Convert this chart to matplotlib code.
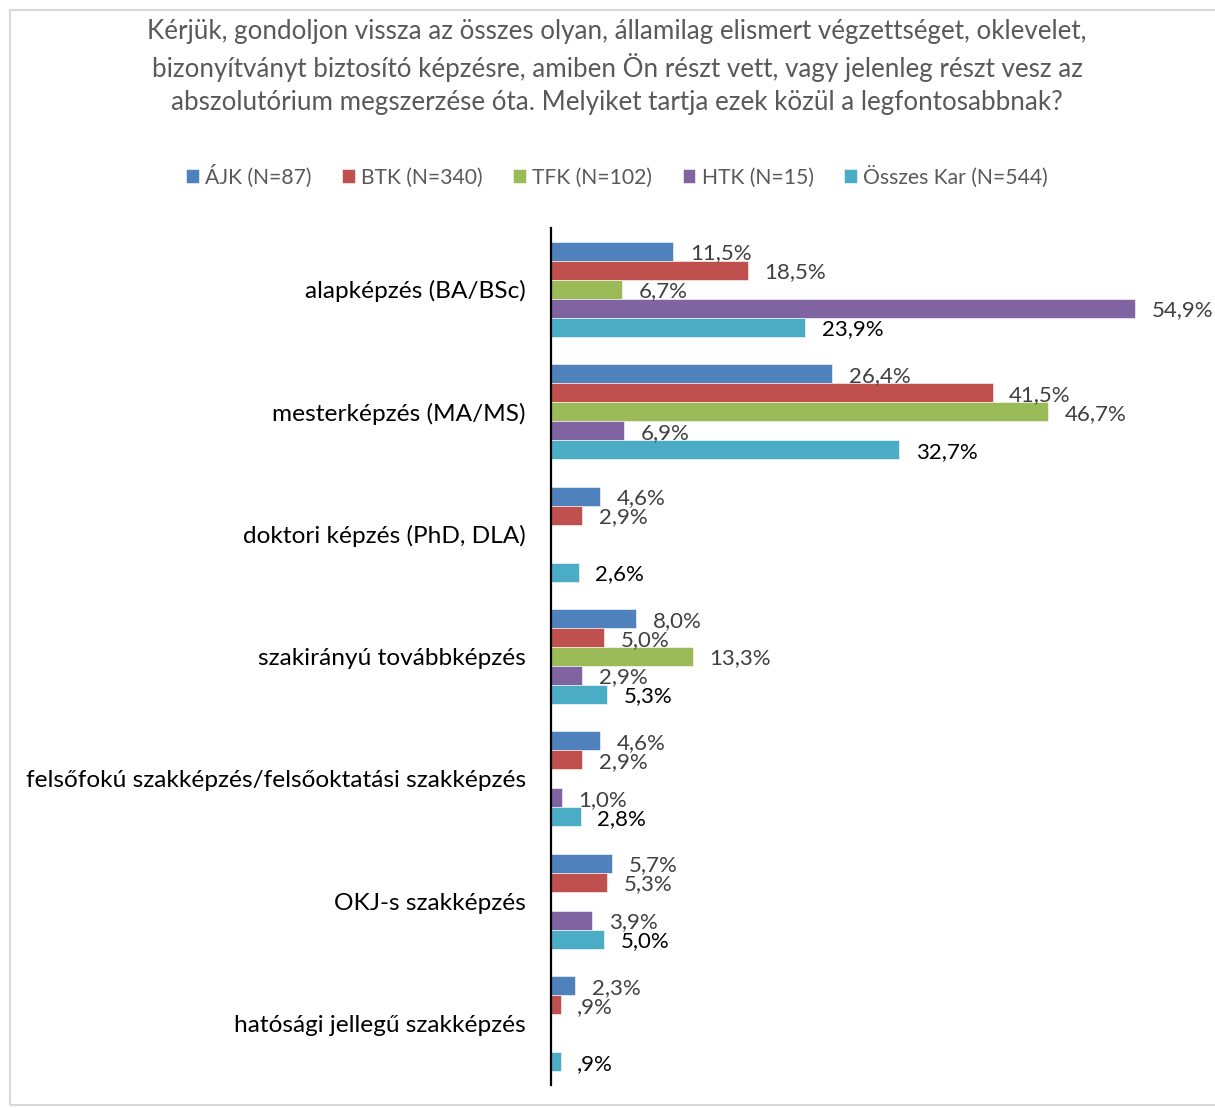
import matplotlib.pyplot as plt
import numpy as np
from matplotlib.patches import Rectangle

plt.rcParams['font.family'] = ['Lato', 'DejaVu Sans']

categories = [
    'alapképzés (BA/BSc)',
    'mesterképzés (MA/MS)',
    'doktori képzés (PhD, DLA)',
    'szakirányú továbbképzés',
    'felsőfokú szakképzés/felsőoktatási szakképzés',
    'OKJ-s szakképzés',
    'hatósági jellegű szakképzés',
]
series_names = ['ÁJK (N=87)', 'BTK (N=340)', 'TFK (N=102)', 'HTK (N=15)', 'Összes Kar (N=544)']
ajk = [11.5, 26.4, 4.6, 8.0, 4.6, 5.7, 2.3]
btk = [18.5, 41.5, 2.9, 5.0, 2.9, 5.3, 0.9]
tfk = [6.7, 46.7, 0, 13.3, 0, 0, 0]
htk = [54.9, 6.9, 0, 2.9, 1.0, 3.9, 0]
osszes = [23.9, 32.7, 2.6, 5.3, 2.8, 5.0, 0.9]
colors = ['#4F81BD', '#C0504D', '#9BBB59', '#8064A2', '#4BACC6']
label_colors = ['#404040', '#404040', '#404040', '#404040', '#000000']

title = ('Kérjük, gondoljon vissza az összes olyan, államilag elismert végzettséget, oklevelet,\n'
         'bizonyítványt biztosító képzésre, amiben Ön részt vett, vagy jelenleg részt vesz az\n'
         'abszolutórium megszerzése óta. Melyiket tartja ezek közül a legfontosabbnak?')


def fmt(v):
    s = f'{v:.1f}'.replace('.', ',')
    if s.startswith('0,'):
        s = s[1:]
    return s + '%'


W, H = 1215, 1108
fig = plt.figure(figsize=(W / 100, H / 100), dpi=100)
fig.patches.append(Rectangle((10 / W, 3 / H), 1.2, (1105 - 3 - 7) / H, transform=fig.transFigure,
                             fill=False, edgecolor='#D9D9D9', linewidth=1.5))

ax = fig.add_axes([551 / W, 1 - 1085 / H, (1190 - 551) / W, (1085 - 228) / H])

y = np.arange(len(categories))
h = 0.155
all_series = [ajk, btk, tfk, htk, osszes]
for i, vals in enumerate(all_series):
    pos = y + (i - 2) * h
    ax.barh(pos, vals, height=h, color=colors[i], label=series_names[i],
            edgecolor='white', linewidth=0.4)
    for p, v in zip(pos, vals):
        if v == 0:
            continue
        ax.annotate(fmt(v), (v, p), xytext=(12, -1.5), textcoords='offset points',
                    ha='left', va='center', fontsize=16, color=label_colors[i])

ax.set_ylim(6.5, -0.5)
ax.set_xlim(0, (1190 - 551) / 10.64)
ax.set_yticks(y)
ax.set_yticklabels(categories, fontsize=17.6, color='black')
ax.tick_params(axis='y', length=0, pad=18)
ax.set_xticks([])
for s in ['top', 'right', 'bottom']:
    ax.spines[s].set_visible(False)
ax.spines['left'].set_linewidth(1.6)
ax.spines['left'].set_color('black')

fig.text(617 / W, 1 - 67 / H, title, ha='center', va='center', fontsize=18.7,
         color='#595959', linespacing=1.4)

handles, labels = ax.get_legend_handles_labels()
fig.legend(handles, labels, loc='center', bbox_to_anchor=(617 / W, 1 - 176 / H), ncol=5,
           frameon=False, fontsize=15.2, handlelength=0.6, handleheight=0.6,
           handletextpad=0.3, columnspacing=1.45, labelcolor='#595959')

fig.savefig('out.png', dpi=100)
